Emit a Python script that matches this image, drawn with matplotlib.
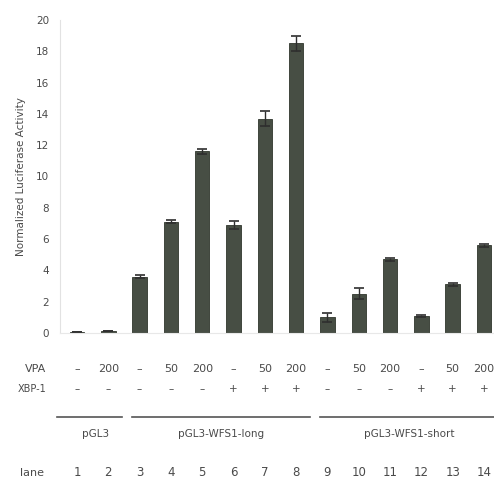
import matplotlib.pyplot as plt
from matplotlib import transforms

# dati
lanes = [1, 2, 3, 4, 5, 6, 7, 8, 9, 10, 11, 12, 13, 14]
activity = [0.05, 0.1, 3.6, 7.1, 11.6, 6.9, 13.7, 18.5, 1.0, 2.5, 4.7, 1.1, 3.1, 5.6]
errors = [0, 0, 0.1, 0.1, 0.15, 0.25, 0.5, 0.5, 0.3, 0.35, 0.1, 0.05, 0.1, 0.1]
vpa = ['–', '200', '–', '50', '200', '–', '50', '200', '–', '50', '200', '–', '50', '200']
xbp1 = ['–', '–', '–', '–', '–', '+', '+', '+', '–', '–', '–', '+', '+', '+']
groups = ['pGL3', 'pGL3-WFS1-long', 'pGL3-WFS1-short']
group_lanes = [(1, 2), (3, 8), (9, 14)]

plt.rcParams['font.family'] = ['DejaVu Sans']
txt_col = '#4a4a4a'

fig = plt.figure(figsize=(4.94, 4.83), dpi=100)
ax = fig.add_axes([60 / 494, 1 - 333 / 483, 434 / 494, 313 / 483])

ax.bar(lanes, activity, width=0.46, color='#474e44', edgecolor='#30362d', linewidth=0.6,
       yerr=errors, error_kw=dict(ecolor='#2e2e2e', elinewidth=1.0, capsize=3.5, capthick=1.2))

ax.set_xlim(0.457, 14.32)
ax.set_ylim(0, 20)
ax.set_yticks(range(0, 21, 2))
ax.set_xticks([])
ax.tick_params(axis='y', length=0, labelsize=7.5, labelcolor=txt_col, pad=8)
ax.set_ylabel('Normalized Luciferase Activity', fontsize=7.5, color=txt_col, labelpad=7)
for s in ['top', 'right']:
    ax.spines[s].set_visible(False)
ax.spines['left'].set_color('#e2e2e2')
ax.spines['bottom'].set_color('#e8e8e8')
ax.spines['left'].set_linewidth(0.8)
ax.spines['bottom'].set_linewidth(0.8)

# testo sotto il grafico
tr = transforms.blended_transform_factory(ax.transData, fig.transFigure)
def fy(py):
    return 1 - py / 483

fig.text(46 / 494, fy(369), 'VPA', ha='right', va='center', fontsize=8, color=txt_col)
fig.text(46 / 494, fy(389), 'XBP-1', ha='right', va='center', fontsize=7, color=txt_col)
fig.text(44 / 494, fy(473), 'lane', ha='right', va='center', fontsize=8, color=txt_col)

for i, l in enumerate(lanes):
    ax.text(l, fy(369), vpa[i], transform=tr, ha='center', va='center', fontsize=8, color=txt_col)
    ax.text(l, fy(389), xbp1[i], transform=tr, ha='center', va='center', fontsize=7.5, color=txt_col)
    ax.text(l, fy(473), str(l), transform=tr, ha='center', va='center', fontsize=8.5, color=txt_col)

for k, (g, (a, b)) in enumerate(zip(groups, group_lanes)):
    start = a - 0.64 if k == 0 else a - 0.25
    ax.plot([start, b + 0.45], [fy(417), fy(417)], transform=tr, color='#555555',
            linewidth=1.2, clip_on=False)
    ax.text((a + b) / 2 + 0.1, fy(434), g, transform=tr, ha='center', va='center',
            fontsize=7.5, color=txt_col)

fig.savefig('out.png', dpi=100)
